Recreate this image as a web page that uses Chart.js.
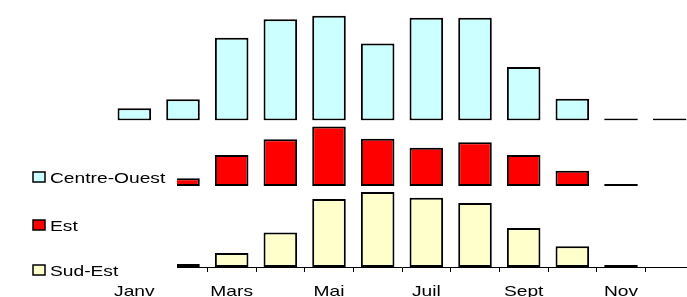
<!DOCTYPE html>
<html>
<head>
<meta charset="utf-8">
<script src="https://cdn.jsdelivr.net/npm/chart.js@4.4.1/dist/chart.umd.min.js"></script>
<style>
  html, body { margin: 0; padding: 0; background: #fff; overflow: hidden; }
</style>
</head>
<body>
<canvas id="chart" width="700" height="297"></canvas>
<script>
var months = ['Janv', 'Févr', 'Mars', 'Avr', 'Mai', 'Juin', 'Juil', 'Août', 'Sept', 'Oct', 'Nov', 'Déc'];
var centreOuest = [3.6, 6.3, 24.4, 29.9, 30.9, 22.7, 30.3, 30.3, 15.8, 6.4, 0, 0];
var est = [1.0, 2.3, 9.1, 13.8, 17.5, 13.9, 11.3, 12.9, 9.1, 4.5, 0, null];
var sudEst = [0.5, 0.9, 4.1, 10.2, 20.1, 22.1, 20.4, 18.9, 11.5, 6.1, 0.2, null];

// one panel per region, same units per pixel in each
var panelMax = { top: 32.6, mid: 19.3, bot: 23.9 };

var FONT = '15px "Liberation Sans", Arial, sans-serif';
var STRETCH = 1.28;  // the original text is drawn wide

function wideText(ctx, text, x, y, align) {
    ctx.save();
    ctx.translate(x, y);
    ctx.scale(STRETCH, 1);
    ctx.textAlign = align;
    ctx.fillText(text, 0, 0);
    ctx.restore();
}

var panelLegend = {
    id: 'panelLegend',
    afterDraw: function (chart) {
        var ctx = chart.ctx;
        var xScale = chart.scales.x;
        var baselines = [183, 231, 276];

        ctx.save();
        // legend box hides the first columns of the two lower panels
        ctx.fillStyle = '#fff';
        ctx.fillRect(0, 123, 177, 160);

        ctx.font = FONT;
        ctx.textBaseline = 'alphabetic';
        chart.data.datasets.forEach(function (ds, i) {
            var by = baselines[i];
            ctx.fillStyle = ds.backgroundColor;
            ctx.fillRect(33, by - 11, 12, 10);
            ctx.lineWidth = 1.5;
            ctx.strokeStyle = '#000';
            ctx.strokeRect(33, by - 11, 12, 10);
            ctx.fillStyle = '#000';
            wideText(ctx, ds.label, 50, by, 'left');
        });

        // month labels, every other one
        months.forEach(function (m, i) {
            if (i % 2 !== 0) return;
            wideText(ctx, m, xScale.getPixelForValue(i), 295.5, 'center');
        });
        ctx.restore();
    }
};

var ctx = document.getElementById('chart').getContext('2d');
new Chart(ctx, {
    type: 'bar',
    data: {
        labels: months,
        datasets: [{
            label: 'Centre-Ouest',
            data: centreOuest,
            backgroundColor: '#CCFFFF',
            yAxisID: 'yTop'
        }, {
            label: 'Est',
            data: est,
            backgroundColor: '#FF0000',
            yAxisID: 'yMid'
        }, {
            label: 'Sud-Est',
            data: sudEst,
            backgroundColor: '#FFFFCC',
            yAxisID: 'yBot'
        }]
    },
    options: {
        responsive: false,
        animation: false,
        layout: { padding: { left: 110, right: 6, top: 10, bottom: 25 } },
        datasets: {
            bar: {
                grouped: false,
                borderColor: '#000',
                borderWidth: 2,
                borderSkipped: false,
                categoryPercentage: 1,
                barPercentage: 0.69,
                minBarLength: 2
            }
        },
        scales: {
            x: {
                type: 'category',
                offset: true,
                grid: { offset: true, drawOnChartArea: false, drawTicks: true, tickLength: 5, color: '#000' },
                border: { display: true, color: '#000', width: 1 },
                ticks: { display: false }
            },
            // stacked axes are laid out bottom first
            yBot: { type: 'linear', position: 'left', display: false, min: 0, max: panelMax.bot, stack: 'panels', stackWeight: 81 },
            yMid: { type: 'linear', position: 'left', display: false, min: 0, max: panelMax.mid, stack: 'panels', stackWeight: 65.5 },
            yTop: { type: 'linear', position: 'left', display: false, min: 0, max: panelMax.top, stack: 'panels', stackWeight: 110.5 }
        },
        plugins: {
            legend: { display: false },
            tooltip: { enabled: false }
        }
    },
    plugins: [panelLegend]
});
</script>
</body>
</html>
